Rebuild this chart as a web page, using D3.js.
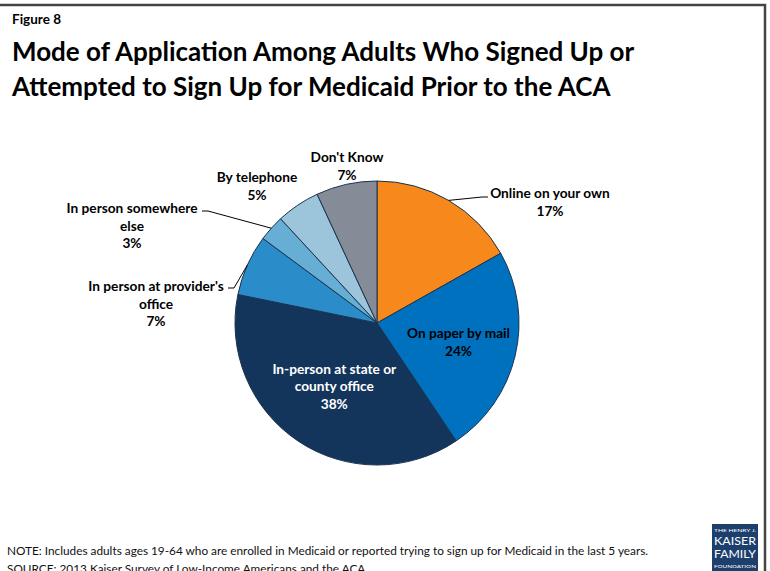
<!DOCTYPE html>
<html>
<head>
<meta charset="utf-8">
<script src="https://cdn.jsdelivr.net/npm/d3@7/dist/d3.min.js"></script>
<style>
  html, body { margin: 0; padding: 0; background: #fff; }
  svg { display: block; }
  text { font-family: Lato, "Open Sans", sans-serif; }
</style>
</head>
<body>
<svg id="chart" width="770" height="571"></svg>
<script>
// Survey results: how adults applied for Medicaid (percent of respondents)
const categories = [
  "Online on your own",
  "On paper by mail",
  "In-person at state or county office",
  "In person at provider's office",
  "In person somewhere else",
  "By telephone",
  "Don't Know"
];
const values = [17, 24, 38, 7, 3, 5, 7];

// Label text split across lines
const labelLines = [
  ["Online on your own"],
  ["On paper by mail"],
  ["In-person at state or", "county office"],
  ["In person at provider's", "office"],
  ["In person somewhere", "else"],
  ["By telephone"],
  ["Don't Know"]
];
const colors = ["#F7881B", "#0071BF", "#14355B", "#2A8DCA", "#66AED4", "#9CC5DC", "#858B97"];

const svg = d3.select("#chart");
const W = 770, H = 571;
const cx = 377, cy = 323, R = 142;

// frame
svg.append("path")
  .attr("d", `M0,5 H765 V${H}`)
  .attr("fill", "none")
  .attr("stroke", "#444")
  .attr("stroke-width", 2.5);

// headings
svg.append("text").attr("x", 12).attr("y", 24)
  .attr("font-size", 13.5).attr("font-weight", 700).attr("fill", "#000")
  .text("Figure 8");
const titleLines = [
  "Mode of Application Among Adults Who Signed Up or",
  "Attempted to Sign Up for Medicaid Prior to the ACA"
];
svg.selectAll("text.title").data(titleLines).join("text")
  .attr("class", "title")
  .attr("x", 12)
  .attr("y", (d, i) => 61 + i * 35)
  .attr("font-size", 26)
  .attr("font-weight", 700)
  .attr("fill", "#000")
  .text(d => d);

// pie
const pie = d3.pie().sort(null).value(d => d);
const arcs = pie(values);
const arc = d3.arc().innerRadius(0).outerRadius(R);
const g = svg.append("g").attr("transform", `translate(${cx},${cy})`);

g.selectAll("path.slice").data(arcs).join("path")
  .attr("class", "slice")
  .attr("d", arc)
  .attr("fill", (d, i) => colors[i])
  .attr("stroke", "#1B3350")
  .attr("stroke-width", 1);

// label layout: block centre relative to pie centre, inside/outside, leader anchor
const lineH = 17.5;
const layout = [
  { dx: 173, dy: -121, color: "#000", leader: { x: 111, y: -126 } },
  { ri: 0.59, color: "#000" },
  { ri: 0.54, color: "#fff" },
  { dx: -221, dy: -19, color: "#000", leader: { x: -149, y: -35 } },
  { dx: -245, dy: -97, color: "#000", leader: { x: -175, y: -112 } },
  { dx: -120, dy: -137, color: "#000" },
  { dx: -30, dy: -157, color: "#000" }
];

arcs.forEach((a, i) => {
  const L = layout[i];
  const lines = labelLines[i].concat([values[i] + "%"]);
  let x, y;
  if (L.ri !== undefined) {
    const mid = (a.startAngle + a.endAngle) / 2;
    x = Math.sin(mid) * R * L.ri;
    y = -Math.cos(mid) * R * L.ri;
  } else {
    x = L.dx; y = L.dy;
  }
  if (L.leader) {
    const mid = (a.startAngle + a.endAngle) / 2;
    const ex = Math.sin(mid) * R, ey = -Math.cos(mid) * R;
    const sx = L.leader.x, sy = L.leader.y;
    const dir = sx > 0 ? -1 : 1;
    g.append("polyline")
      .attr("points", `${sx},${sy} ${sx + dir * 6},${sy} ${ex},${ey}`)
      .attr("fill", "none")
      .attr("stroke", "#000")
      .attr("stroke-width", 1);
  }
  const t = g.append("text")
    .attr("text-anchor", "middle")
    .attr("font-size", 13.7)
    .attr("font-weight", 700)
    .attr("fill", L.color);
  const y0 = y - (lines.length - 1) * lineH / 2;
  lines.forEach((ln, k) => {
    t.append("tspan").attr("x", x).attr("y", y0 + k * lineH + 4.8).text(ln);
  });
});

// footnotes
svg.append("text").attr("x", 7).attr("y", 555)
  .attr("font-size", 11.8).attr("fill", "#111")
  .text("NOTE: Includes adults ages 19-64 who are enrolled in Medicaid or reported trying to sign up for Medicaid in the last 5 years.");
svg.append("text").attr("x", 7).attr("y", 573)
  .attr("font-size", 11.8).attr("fill", "#111")
  .text("SOURCE: 2013 Kaiser Survey of Low-Income Americans and the ACA.");

// foundation mark
const logo = svg.append("g").attr("transform", "translate(712,524)");
logo.append("rect").attr("width", 46).attr("height", 48).attr("fill", "#1D3F6E");
const logoText = [
  { t: "THE HENRY J.", y: 8, s: 4.5 },
  { t: "KAISER", y: 21, s: 10.5 },
  { t: "FAMILY", y: 34, s: 10.5 },
  { t: "FOUNDATION", y: 44, s: 4.5 }
];
logo.selectAll("text").data(logoText).join("text")
  .attr("x", 23).attr("y", d => d.y)
  .attr("text-anchor", "middle")
  .attr("font-family", "'Liberation Serif', 'DejaVu Serif', serif")
  .attr("font-size", d => d.s)
  .attr("fill", "#fff")
  .attr("textLength", 42)
  .attr("lengthAdjust", "spacingAndGlyphs")
  .text(d => d.t);
</script>
</body>
</html>
